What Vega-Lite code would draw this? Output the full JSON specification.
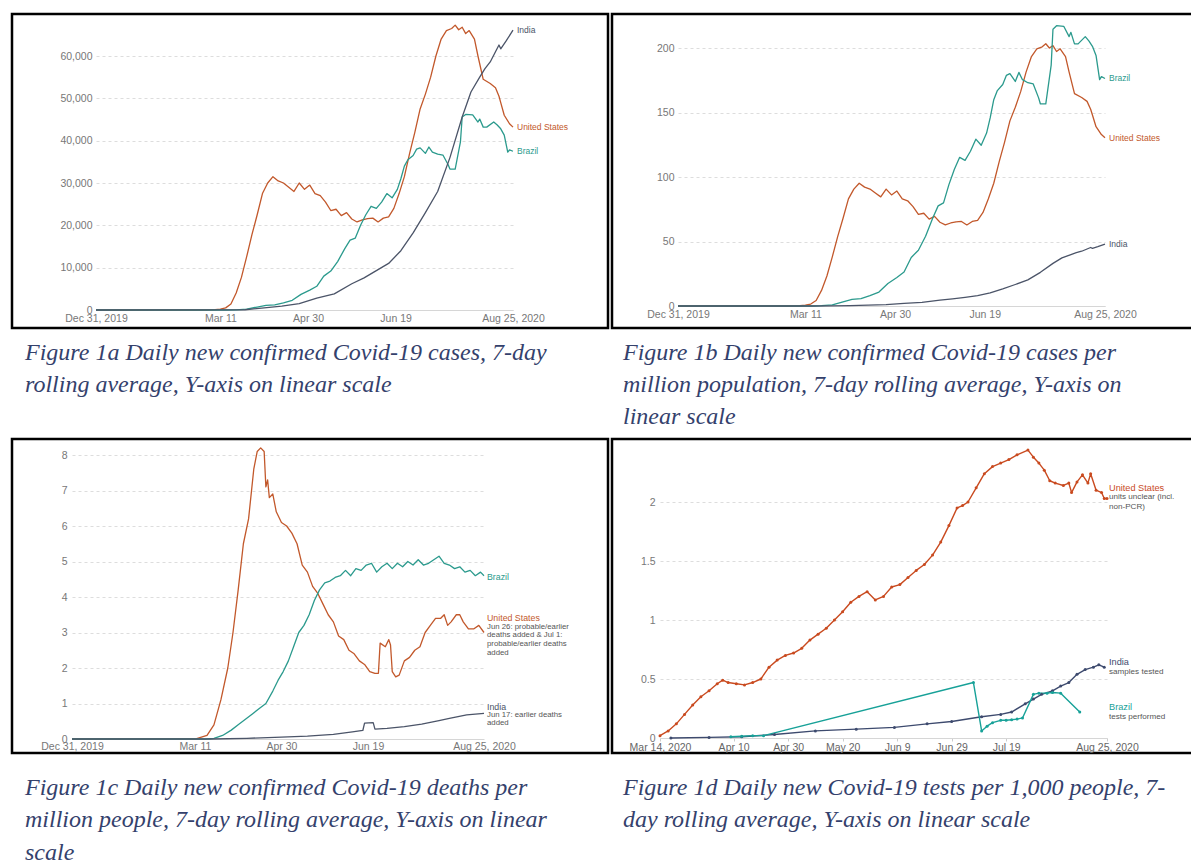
{
  "$schema": "https://vega.github.io/schema/vega-lite/v6.json",
  "background": "white",
  "padding": {"left": 10, "top": 12, "right": 0, "bottom": 0},
  "columns": 2,
  "bounds": "flush",
  "spacing": {"row": 3, "column": 4},
  "resolve": {"scale": {"color": "independent"}},
  "config": {
    "view": {"stroke": "black", "strokeWidth": 2.5},
    "axis": {"labelFont": "Liberation Sans", "labelFontSize": 10.5, "labelColor": "#777777", "ticks": false, "domain": false, "gridColor": "#dddddd", "gridDash": [3, 3], "labelOverlap": false, "labelFlush": false, "tickCount": 30},
    "text": {"font": "Liberation Sans"}
  },
  "concat": [
    {
      "width": 596, "height": 314,
      "layer": [
        {
          "data": {"values": [
            {"country": "United States", "date": "2019-12-31", "value": 0},
            {"country": "United States", "date": "2020-03-01", "value": 3},
            {"country": "United States", "date": "2020-03-05", "value": 30},
            {"country": "United States", "date": "2020-03-08", "value": 70},
            {"country": "United States", "date": "2020-03-11", "value": 200},
            {"country": "United States", "date": "2020-03-14", "value": 500},
            {"country": "United States", "date": "2020-03-17", "value": 1400},
            {"country": "United States", "date": "2020-03-20", "value": 4000},
            {"country": "United States", "date": "2020-03-23", "value": 7700},
            {"country": "United States", "date": "2020-03-26", "value": 12600},
            {"country": "United States", "date": "2020-03-29", "value": 17800},
            {"country": "United States", "date": "2020-04-01", "value": 22500},
            {"country": "United States", "date": "2020-04-04", "value": 27500},
            {"country": "United States", "date": "2020-04-07", "value": 30000},
            {"country": "United States", "date": "2020-04-10", "value": 31500},
            {"country": "United States", "date": "2020-04-13", "value": 30500},
            {"country": "United States", "date": "2020-04-16", "value": 30000},
            {"country": "United States", "date": "2020-04-19", "value": 29000},
            {"country": "United States", "date": "2020-04-22", "value": 28000},
            {"country": "United States", "date": "2020-04-25", "value": 30000},
            {"country": "United States", "date": "2020-04-28", "value": 28500},
            {"country": "United States", "date": "2020-05-01", "value": 29500},
            {"country": "United States", "date": "2020-05-04", "value": 27500},
            {"country": "United States", "date": "2020-05-07", "value": 27000},
            {"country": "United States", "date": "2020-05-10", "value": 25500},
            {"country": "United States", "date": "2020-05-13", "value": 23500},
            {"country": "United States", "date": "2020-05-16", "value": 23800},
            {"country": "United States", "date": "2020-05-19", "value": 22300},
            {"country": "United States", "date": "2020-05-22", "value": 23000},
            {"country": "United States", "date": "2020-05-25", "value": 21500},
            {"country": "United States", "date": "2020-05-28", "value": 20800},
            {"country": "United States", "date": "2020-05-31", "value": 21300},
            {"country": "United States", "date": "2020-06-03", "value": 21600},
            {"country": "United States", "date": "2020-06-06", "value": 21700},
            {"country": "United States", "date": "2020-06-09", "value": 20800},
            {"country": "United States", "date": "2020-06-12", "value": 21700},
            {"country": "United States", "date": "2020-06-15", "value": 22000},
            {"country": "United States", "date": "2020-06-18", "value": 24000},
            {"country": "United States", "date": "2020-06-21", "value": 27500},
            {"country": "United States", "date": "2020-06-24", "value": 31500},
            {"country": "United States", "date": "2020-06-27", "value": 37000},
            {"country": "United States", "date": "2020-06-30", "value": 42000},
            {"country": "United States", "date": "2020-07-03", "value": 47500},
            {"country": "United States", "date": "2020-07-06", "value": 51000},
            {"country": "United States", "date": "2020-07-09", "value": 55000},
            {"country": "United States", "date": "2020-07-12", "value": 60000},
            {"country": "United States", "date": "2020-07-15", "value": 64000},
            {"country": "United States", "date": "2020-07-18", "value": 66000},
            {"country": "United States", "date": "2020-07-21", "value": 66500},
            {"country": "United States", "date": "2020-07-23", "value": 67300},
            {"country": "United States", "date": "2020-07-25", "value": 66200},
            {"country": "United States", "date": "2020-07-27", "value": 66800},
            {"country": "United States", "date": "2020-07-29", "value": 65300},
            {"country": "United States", "date": "2020-07-31", "value": 66000},
            {"country": "United States", "date": "2020-08-03", "value": 64000},
            {"country": "United States", "date": "2020-08-05", "value": 60000},
            {"country": "United States", "date": "2020-08-08", "value": 54500},
            {"country": "United States", "date": "2020-08-12", "value": 53500},
            {"country": "United States", "date": "2020-08-15", "value": 52500},
            {"country": "United States", "date": "2020-08-17", "value": 50500},
            {"country": "United States", "date": "2020-08-18", "value": 49000},
            {"country": "United States", "date": "2020-08-20", "value": 46000},
            {"country": "United States", "date": "2020-08-23", "value": 44000},
            {"country": "United States", "date": "2020-08-25", "value": 43200},
            {"country": "Brazil", "date": "2019-12-31", "value": 0},
            {"country": "Brazil", "date": "2020-03-15", "value": 0},
            {"country": "Brazil", "date": "2020-03-20", "value": 50},
            {"country": "Brazil", "date": "2020-03-26", "value": 200},
            {"country": "Brazil", "date": "2020-04-01", "value": 700},
            {"country": "Brazil", "date": "2020-04-06", "value": 1100},
            {"country": "Brazil", "date": "2020-04-11", "value": 1200},
            {"country": "Brazil", "date": "2020-04-16", "value": 1700},
            {"country": "Brazil", "date": "2020-04-21", "value": 2300},
            {"country": "Brazil", "date": "2020-04-26", "value": 3700},
            {"country": "Brazil", "date": "2020-05-01", "value": 4700},
            {"country": "Brazil", "date": "2020-05-05", "value": 5600},
            {"country": "Brazil", "date": "2020-05-09", "value": 8000},
            {"country": "Brazil", "date": "2020-05-13", "value": 9200},
            {"country": "Brazil", "date": "2020-05-17", "value": 11500},
            {"country": "Brazil", "date": "2020-05-21", "value": 14500},
            {"country": "Brazil", "date": "2020-05-24", "value": 16500},
            {"country": "Brazil", "date": "2020-05-27", "value": 17000},
            {"country": "Brazil", "date": "2020-05-30", "value": 20000},
            {"country": "Brazil", "date": "2020-06-02", "value": 22500},
            {"country": "Brazil", "date": "2020-06-05", "value": 24500},
            {"country": "Brazil", "date": "2020-06-08", "value": 24000},
            {"country": "Brazil", "date": "2020-06-11", "value": 25500},
            {"country": "Brazil", "date": "2020-06-14", "value": 27500},
            {"country": "Brazil", "date": "2020-06-17", "value": 26500},
            {"country": "Brazil", "date": "2020-06-20", "value": 28500},
            {"country": "Brazil", "date": "2020-06-22", "value": 31000},
            {"country": "Brazil", "date": "2020-06-24", "value": 34000},
            {"country": "Brazil", "date": "2020-06-26", "value": 35500},
            {"country": "Brazil", "date": "2020-06-29", "value": 36500},
            {"country": "Brazil", "date": "2020-07-01", "value": 38000},
            {"country": "Brazil", "date": "2020-07-03", "value": 38300},
            {"country": "Brazil", "date": "2020-07-06", "value": 37000},
            {"country": "Brazil", "date": "2020-07-08", "value": 38500},
            {"country": "Brazil", "date": "2020-07-10", "value": 37300},
            {"country": "Brazil", "date": "2020-07-13", "value": 36800},
            {"country": "Brazil", "date": "2020-07-16", "value": 36600},
            {"country": "Brazil", "date": "2020-07-19", "value": 34300},
            {"country": "Brazil", "date": "2020-07-20", "value": 33300},
            {"country": "Brazil", "date": "2020-07-23", "value": 33300},
            {"country": "Brazil", "date": "2020-07-26", "value": 39700},
            {"country": "Brazil", "date": "2020-07-27", "value": 45600},
            {"country": "Brazil", "date": "2020-07-29", "value": 46200},
            {"country": "Brazil", "date": "2020-08-02", "value": 46100},
            {"country": "Brazil", "date": "2020-08-05", "value": 44400},
            {"country": "Brazil", "date": "2020-08-06", "value": 45100},
            {"country": "Brazil", "date": "2020-08-08", "value": 43200},
            {"country": "Brazil", "date": "2020-08-10", "value": 43200},
            {"country": "Brazil", "date": "2020-08-14", "value": 44400},
            {"country": "Brazil", "date": "2020-08-16", "value": 43700},
            {"country": "Brazil", "date": "2020-08-18", "value": 42800},
            {"country": "Brazil", "date": "2020-08-20", "value": 41300},
            {"country": "Brazil", "date": "2020-08-22", "value": 37300},
            {"country": "Brazil", "date": "2020-08-23", "value": 37800},
            {"country": "Brazil", "date": "2020-08-25", "value": 37500},
            {"country": "India", "date": "2019-12-31", "value": 0},
            {"country": "India", "date": "2020-03-15", "value": 10},
            {"country": "India", "date": "2020-03-25", "value": 60},
            {"country": "India", "date": "2020-04-05", "value": 500},
            {"country": "India", "date": "2020-04-15", "value": 900},
            {"country": "India", "date": "2020-04-25", "value": 1500},
            {"country": "India", "date": "2020-05-05", "value": 2800},
            {"country": "India", "date": "2020-05-15", "value": 3800},
            {"country": "India", "date": "2020-05-25", "value": 6200},
            {"country": "India", "date": "2020-06-01", "value": 7600},
            {"country": "India", "date": "2020-06-08", "value": 9300},
            {"country": "India", "date": "2020-06-15", "value": 11000},
            {"country": "India", "date": "2020-06-22", "value": 14000},
            {"country": "India", "date": "2020-06-29", "value": 18200},
            {"country": "India", "date": "2020-07-06", "value": 23000},
            {"country": "India", "date": "2020-07-13", "value": 28000},
            {"country": "India", "date": "2020-07-20", "value": 36000},
            {"country": "India", "date": "2020-07-27", "value": 45600},
            {"country": "India", "date": "2020-08-01", "value": 51500},
            {"country": "India", "date": "2020-08-06", "value": 55000},
            {"country": "India", "date": "2020-08-09", "value": 57000},
            {"country": "India", "date": "2020-08-12", "value": 58600},
            {"country": "India", "date": "2020-08-15", "value": 61000},
            {"country": "India", "date": "2020-08-17", "value": 62600},
            {"country": "India", "date": "2020-08-18", "value": 61700},
            {"country": "India", "date": "2020-08-21", "value": 63500},
            {"country": "India", "date": "2020-08-25", "value": 66100}
          ]},
          "mark": {"type": "line", "strokeWidth": 1.3, "strokeJoin": "round"},
          "encoding": {
            "x": {"field": "date", "type": "temporal",
              "scale": {"type": "utc", "domain": [{"year": 2019, "month": 12, "date": 31, "utc": true}, {"year": 2020, "month": 8, "date": 25, "utc": true}], "range": [84, 501]},
              "axis": {"title": null, "orient": "bottom", "offset": -18, "grid": false, "domain": true, "domainColor": "#d6d6d6", "labelPadding": 3,
                "values": [{"year": 2019, "month": 12, "date": 31, "utc": true}, {"year": 2020, "month": 3, "date": 11, "utc": true}, {"year": 2020, "month": 4, "date": 30, "utc": true}, {"year": 2020, "month": 6, "date": 19, "utc": true}, {"year": 2020, "month": 8, "date": 25, "utc": true}],
                "labelExpr": "utcFormat(datum.value, (utcyear(datum.value) == 2019 || (utcmonth(datum.value) == 7 && utcdate(datum.value) == 25)) ? '%b %-d, %Y' : '%b %-d')"}},
            "y": {"field": "value", "type": "quantitative",
              "scale": {"domain": [0, 60000], "range": [296, 42], "nice": false, "zero": false},
              "axis": {"title": null, "orient": "left", "offset": -84, "grid": true, "labelPadding": 4, "format": ",d", "values": [0, 10000, 20000, 30000, 40000, 50000, 60000]}},
            "color": {"field": "country", "type": "nominal", "scale": {"domain": ["United States", "Brazil", "India"], "range": ["#c2582b", "#2b9a8d", "#4b5468"]}, "legend": null}
          }
        },
        {
          "data": {"values": [
            {"country": "India", "date": "2020-08-25", "value": 66100},
            {"country": "United States", "date": "2020-08-25", "value": 43200},
            {"country": "Brazil", "date": "2020-08-25", "value": 37500}
          ]},
          "mark": {"type": "text", "align": "left", "baseline": "middle", "dx": 4, "fontSize": 8.5},
          "encoding": {
            "x": {"field": "date", "type": "temporal"},
            "y": {"field": "value", "type": "quantitative"},
            "text": {"field": "country"},
            "color": {"field": "country", "type": "nominal", "legend": null}
          }
        }
      ]
    },
    {
      "width": 584, "height": 314,
      "layer": [
        {
          "data": {"values": [
            {"country": "United States", "date": "2019-12-31", "value": 0},
            {"country": "United States", "date": "2020-03-01", "value": 0.01},
            {"country": "United States", "date": "2020-03-05", "value": 0.09},
            {"country": "United States", "date": "2020-03-08", "value": 0.21},
            {"country": "United States", "date": "2020-03-11", "value": 0.6},
            {"country": "United States", "date": "2020-03-14", "value": 1.51},
            {"country": "United States", "date": "2020-03-17", "value": 4.23},
            {"country": "United States", "date": "2020-03-20", "value": 12.08},
            {"country": "United States", "date": "2020-03-23", "value": 23.26},
            {"country": "United States", "date": "2020-03-26", "value": 38.07},
            {"country": "United States", "date": "2020-03-29", "value": 53.78},
            {"country": "United States", "date": "2020-04-01", "value": 67.98},
            {"country": "United States", "date": "2020-04-04", "value": 83.08},
            {"country": "United States", "date": "2020-04-07", "value": 90.63},
            {"country": "United States", "date": "2020-04-10", "value": 95.17},
            {"country": "United States", "date": "2020-04-13", "value": 92.14},
            {"country": "United States", "date": "2020-04-16", "value": 90.63},
            {"country": "United States", "date": "2020-04-19", "value": 87.61},
            {"country": "United States", "date": "2020-04-22", "value": 84.59},
            {"country": "United States", "date": "2020-04-25", "value": 90.63},
            {"country": "United States", "date": "2020-04-28", "value": 86.1},
            {"country": "United States", "date": "2020-05-01", "value": 89.12},
            {"country": "United States", "date": "2020-05-04", "value": 83.08},
            {"country": "United States", "date": "2020-05-07", "value": 81.57},
            {"country": "United States", "date": "2020-05-10", "value": 77.04},
            {"country": "United States", "date": "2020-05-13", "value": 71.0},
            {"country": "United States", "date": "2020-05-16", "value": 71.9},
            {"country": "United States", "date": "2020-05-19", "value": 67.37},
            {"country": "United States", "date": "2020-05-22", "value": 69.49},
            {"country": "United States", "date": "2020-05-25", "value": 64.95},
            {"country": "United States", "date": "2020-05-28", "value": 62.84},
            {"country": "United States", "date": "2020-05-31", "value": 64.35},
            {"country": "United States", "date": "2020-06-03", "value": 65.26},
            {"country": "United States", "date": "2020-06-06", "value": 65.56},
            {"country": "United States", "date": "2020-06-09", "value": 62.84},
            {"country": "United States", "date": "2020-06-12", "value": 65.56},
            {"country": "United States", "date": "2020-06-15", "value": 66.46},
            {"country": "United States", "date": "2020-06-18", "value": 72.51},
            {"country": "United States", "date": "2020-06-21", "value": 83.08},
            {"country": "United States", "date": "2020-06-24", "value": 95.17},
            {"country": "United States", "date": "2020-06-27", "value": 111.78},
            {"country": "United States", "date": "2020-06-30", "value": 126.89},
            {"country": "United States", "date": "2020-07-03", "value": 143.5},
            {"country": "United States", "date": "2020-07-06", "value": 154.08},
            {"country": "United States", "date": "2020-07-09", "value": 166.16},
            {"country": "United States", "date": "2020-07-12", "value": 181.27},
            {"country": "United States", "date": "2020-07-15", "value": 193.35},
            {"country": "United States", "date": "2020-07-18", "value": 199.39},
            {"country": "United States", "date": "2020-07-21", "value": 200.9},
            {"country": "United States", "date": "2020-07-23", "value": 203.32},
            {"country": "United States", "date": "2020-07-25", "value": 200.0},
            {"country": "United States", "date": "2020-07-27", "value": 201.81},
            {"country": "United States", "date": "2020-07-29", "value": 197.28},
            {"country": "United States", "date": "2020-07-31", "value": 199.39},
            {"country": "United States", "date": "2020-08-03", "value": 193.35},
            {"country": "United States", "date": "2020-08-05", "value": 181.27},
            {"country": "United States", "date": "2020-08-08", "value": 164.65},
            {"country": "United States", "date": "2020-08-12", "value": 161.63},
            {"country": "United States", "date": "2020-08-15", "value": 158.61},
            {"country": "United States", "date": "2020-08-17", "value": 152.57},
            {"country": "United States", "date": "2020-08-18", "value": 148.03},
            {"country": "United States", "date": "2020-08-20", "value": 138.97},
            {"country": "United States", "date": "2020-08-23", "value": 132.93},
            {"country": "United States", "date": "2020-08-25", "value": 130.51},
            {"country": "Brazil", "date": "2019-12-31", "value": 0},
            {"country": "Brazil", "date": "2020-03-15", "value": 0},
            {"country": "Brazil", "date": "2020-03-20", "value": 0.24},
            {"country": "Brazil", "date": "2020-03-26", "value": 0.94},
            {"country": "Brazil", "date": "2020-04-01", "value": 3.29},
            {"country": "Brazil", "date": "2020-04-06", "value": 5.17},
            {"country": "Brazil", "date": "2020-04-11", "value": 5.64},
            {"country": "Brazil", "date": "2020-04-16", "value": 8.0},
            {"country": "Brazil", "date": "2020-04-21", "value": 10.82},
            {"country": "Brazil", "date": "2020-04-26", "value": 17.4},
            {"country": "Brazil", "date": "2020-05-01", "value": 22.11},
            {"country": "Brazil", "date": "2020-05-05", "value": 26.34},
            {"country": "Brazil", "date": "2020-05-09", "value": 37.63},
            {"country": "Brazil", "date": "2020-05-13", "value": 43.27},
            {"country": "Brazil", "date": "2020-05-17", "value": 54.09},
            {"country": "Brazil", "date": "2020-05-21", "value": 68.2},
            {"country": "Brazil", "date": "2020-05-24", "value": 77.61},
            {"country": "Brazil", "date": "2020-05-27", "value": 79.96},
            {"country": "Brazil", "date": "2020-05-30", "value": 94.07},
            {"country": "Brazil", "date": "2020-06-02", "value": 105.83},
            {"country": "Brazil", "date": "2020-06-05", "value": 115.24},
            {"country": "Brazil", "date": "2020-06-08", "value": 112.89},
            {"country": "Brazil", "date": "2020-06-11", "value": 119.94},
            {"country": "Brazil", "date": "2020-06-14", "value": 129.35},
            {"country": "Brazil", "date": "2020-06-17", "value": 124.65},
            {"country": "Brazil", "date": "2020-06-20", "value": 134.05},
            {"country": "Brazil", "date": "2020-06-22", "value": 145.81},
            {"country": "Brazil", "date": "2020-06-24", "value": 159.92},
            {"country": "Brazil", "date": "2020-06-26", "value": 166.98},
            {"country": "Brazil", "date": "2020-06-29", "value": 171.68},
            {"country": "Brazil", "date": "2020-07-01", "value": 178.74},
            {"country": "Brazil", "date": "2020-07-03", "value": 180.15},
            {"country": "Brazil", "date": "2020-07-06", "value": 174.04},
            {"country": "Brazil", "date": "2020-07-08", "value": 181.09},
            {"country": "Brazil", "date": "2020-07-10", "value": 175.45},
            {"country": "Brazil", "date": "2020-07-13", "value": 173.1},
            {"country": "Brazil", "date": "2020-07-16", "value": 172.15},
            {"country": "Brazil", "date": "2020-07-19", "value": 161.34},
            {"country": "Brazil", "date": "2020-07-20", "value": 156.63},
            {"country": "Brazil", "date": "2020-07-23", "value": 156.63},
            {"country": "Brazil", "date": "2020-07-26", "value": 186.74},
            {"country": "Brazil", "date": "2020-07-27", "value": 214.49},
            {"country": "Brazil", "date": "2020-07-29", "value": 217.31},
            {"country": "Brazil", "date": "2020-08-02", "value": 216.84},
            {"country": "Brazil", "date": "2020-08-05", "value": 208.84},
            {"country": "Brazil", "date": "2020-08-06", "value": 212.14},
            {"country": "Brazil", "date": "2020-08-08", "value": 203.2},
            {"country": "Brazil", "date": "2020-08-10", "value": 203.2},
            {"country": "Brazil", "date": "2020-08-14", "value": 208.84},
            {"country": "Brazil", "date": "2020-08-16", "value": 205.55},
            {"country": "Brazil", "date": "2020-08-18", "value": 201.32},
            {"country": "Brazil", "date": "2020-08-20", "value": 194.26},
            {"country": "Brazil", "date": "2020-08-22", "value": 175.45},
            {"country": "Brazil", "date": "2020-08-23", "value": 177.8},
            {"country": "Brazil", "date": "2020-08-25", "value": 176.39},
            {"country": "India", "date": "2019-12-31", "value": 0},
            {"country": "India", "date": "2020-03-15", "value": 0.01},
            {"country": "India", "date": "2020-03-25", "value": 0.04},
            {"country": "India", "date": "2020-04-05", "value": 0.36},
            {"country": "India", "date": "2020-04-15", "value": 0.65},
            {"country": "India", "date": "2020-04-25", "value": 1.09},
            {"country": "India", "date": "2020-05-05", "value": 2.03},
            {"country": "India", "date": "2020-05-15", "value": 2.75},
            {"country": "India", "date": "2020-05-25", "value": 4.49},
            {"country": "India", "date": "2020-06-01", "value": 5.51},
            {"country": "India", "date": "2020-06-08", "value": 6.74},
            {"country": "India", "date": "2020-06-15", "value": 7.97},
            {"country": "India", "date": "2020-06-22", "value": 10.14},
            {"country": "India", "date": "2020-06-29", "value": 13.19},
            {"country": "India", "date": "2020-07-06", "value": 16.67},
            {"country": "India", "date": "2020-07-13", "value": 20.29},
            {"country": "India", "date": "2020-07-20", "value": 26.09},
            {"country": "India", "date": "2020-07-27", "value": 33.04},
            {"country": "India", "date": "2020-08-01", "value": 37.32},
            {"country": "India", "date": "2020-08-06", "value": 39.86},
            {"country": "India", "date": "2020-08-09", "value": 41.3},
            {"country": "India", "date": "2020-08-12", "value": 42.46},
            {"country": "India", "date": "2020-08-15", "value": 44.2},
            {"country": "India", "date": "2020-08-17", "value": 45.36},
            {"country": "India", "date": "2020-08-18", "value": 44.71},
            {"country": "India", "date": "2020-08-21", "value": 46.01},
            {"country": "India", "date": "2020-08-25", "value": 47.9}
          ]},
          "mark": {"type": "line", "strokeWidth": 1.3, "strokeJoin": "round"},
          "encoding": {
            "x": {"field": "date", "type": "temporal",
              "scale": {"type": "utc", "domain": [{"year": 2019, "month": 12, "date": 31, "utc": true}, {"year": 2020, "month": 8, "date": 25, "utc": true}], "range": [66, 493]},
              "axis": {"title": null, "orient": "bottom", "offset": -22, "grid": false, "domain": true, "domainColor": "#d6d6d6", "labelPadding": 3,
                "values": [{"year": 2019, "month": 12, "date": 31, "utc": true}, {"year": 2020, "month": 3, "date": 11, "utc": true}, {"year": 2020, "month": 4, "date": 30, "utc": true}, {"year": 2020, "month": 6, "date": 19, "utc": true}, {"year": 2020, "month": 8, "date": 25, "utc": true}],
                "labelExpr": "utcFormat(datum.value, (utcyear(datum.value) == 2019 || (utcmonth(datum.value) == 7 && utcdate(datum.value) == 25)) ? '%b %-d, %Y' : '%b %-d')"}},
            "y": {"field": "value", "type": "quantitative",
              "scale": {"domain": [0, 200], "range": [292, 34], "nice": false, "zero": false},
              "axis": {"title": null, "orient": "left", "offset": -66, "grid": true, "labelPadding": 4, "format": "d", "values": [0, 50, 100, 150, 200]}},
            "color": {"field": "country", "type": "nominal", "scale": {"domain": ["United States", "Brazil", "India"], "range": ["#c2582b", "#2b9a8d", "#4b5468"]}, "legend": null}
          }
        },
        {
          "data": {"values": [
            {"country": "Brazil", "date": "2020-08-25", "value": 176.39},
            {"country": "United States", "date": "2020-08-25", "value": 130.51},
            {"country": "India", "date": "2020-08-25", "value": 47.9}
          ]},
          "mark": {"type": "text", "align": "left", "baseline": "middle", "dx": 4, "fontSize": 8.5},
          "encoding": {
            "x": {"field": "date", "type": "temporal"},
            "y": {"field": "value", "type": "quantitative"},
            "text": {"field": "country"},
            "color": {"field": "country", "type": "nominal", "legend": null}
          }
        }
      ]
    },
    {
      "width": 596, "height": 105,
      "data": {"values": [{}]},
      "mark": {"type": "text", "text": ""},
      "title": {"text": ["Figure 1a Daily new confirmed Covid-19 cases, 7-day", "rolling average, Y-axis on linear scale"], "orient": "bottom", "anchor": "start", "frame": "group", "offset": -95.5, "dx": 13, "baseline": "top", "lineHeight": 32, "font": "Liberation Serif", "fontSize": 24, "fontStyle": "italic", "fontWeight": "normal", "color": "#34416c"}
    },
    {
      "width": 584, "height": 105,
      "data": {"values": [{}]},
      "mark": {"type": "text", "text": ""},
      "title": {"text": ["Figure 1b Daily new confirmed Covid-19 cases per", "million population, 7-day rolling average, Y-axis on", "linear scale"], "orient": "bottom", "anchor": "start", "frame": "group", "offset": -95.5, "dx": 11, "baseline": "top", "lineHeight": 32, "font": "Liberation Serif", "fontSize": 24, "fontStyle": "italic", "fontWeight": "normal", "color": "#34416c"}
    },
    {
      "width": 596, "height": 314,
      "layer": [
        {
          "data": {"values": [
            {"country": "United States", "date": "2019-12-31", "value": 0},
            {"country": "United States", "date": "2020-03-12", "value": 0.01},
            {"country": "United States", "date": "2020-03-18", "value": 0.1},
            {"country": "United States", "date": "2020-03-22", "value": 0.4},
            {"country": "United States", "date": "2020-03-26", "value": 1.1},
            {"country": "United States", "date": "2020-03-30", "value": 2.0},
            {"country": "United States", "date": "2020-04-02", "value": 3.0},
            {"country": "United States", "date": "2020-04-05", "value": 4.2},
            {"country": "United States", "date": "2020-04-08", "value": 5.5},
            {"country": "United States", "date": "2020-04-11", "value": 6.2},
            {"country": "United States", "date": "2020-04-14", "value": 7.6},
            {"country": "United States", "date": "2020-04-16", "value": 8.1},
            {"country": "United States", "date": "2020-04-18", "value": 8.2},
            {"country": "United States", "date": "2020-04-20", "value": 8.1},
            {"country": "United States", "date": "2020-04-21", "value": 7.1},
            {"country": "United States", "date": "2020-04-22", "value": 7.3},
            {"country": "United States", "date": "2020-04-23", "value": 6.8},
            {"country": "United States", "date": "2020-04-25", "value": 6.9},
            {"country": "United States", "date": "2020-04-27", "value": 6.4},
            {"country": "United States", "date": "2020-04-30", "value": 6.1},
            {"country": "United States", "date": "2020-05-03", "value": 6.0},
            {"country": "United States", "date": "2020-05-06", "value": 5.8},
            {"country": "United States", "date": "2020-05-09", "value": 5.5},
            {"country": "United States", "date": "2020-05-12", "value": 4.9},
            {"country": "United States", "date": "2020-05-15", "value": 4.7},
            {"country": "United States", "date": "2020-05-18", "value": 4.3},
            {"country": "United States", "date": "2020-05-21", "value": 4.1},
            {"country": "United States", "date": "2020-05-24", "value": 3.8},
            {"country": "United States", "date": "2020-05-27", "value": 3.5},
            {"country": "United States", "date": "2020-05-30", "value": 3.3},
            {"country": "United States", "date": "2020-06-02", "value": 2.9},
            {"country": "United States", "date": "2020-06-05", "value": 2.8},
            {"country": "United States", "date": "2020-06-08", "value": 2.5},
            {"country": "United States", "date": "2020-06-11", "value": 2.4},
            {"country": "United States", "date": "2020-06-14", "value": 2.2},
            {"country": "United States", "date": "2020-06-17", "value": 2.1},
            {"country": "United States", "date": "2020-06-20", "value": 1.9},
            {"country": "United States", "date": "2020-06-23", "value": 1.85},
            {"country": "United States", "date": "2020-06-25", "value": 1.85},
            {"country": "United States", "date": "2020-06-26", "value": 2.7},
            {"country": "United States", "date": "2020-06-29", "value": 2.6},
            {"country": "United States", "date": "2020-07-01", "value": 2.8},
            {"country": "United States", "date": "2020-07-02", "value": 2.65},
            {"country": "United States", "date": "2020-07-03", "value": 1.9},
            {"country": "United States", "date": "2020-07-05", "value": 1.75},
            {"country": "United States", "date": "2020-07-07", "value": 1.8},
            {"country": "United States", "date": "2020-07-10", "value": 2.2},
            {"country": "United States", "date": "2020-07-13", "value": 2.3},
            {"country": "United States", "date": "2020-07-16", "value": 2.5},
            {"country": "United States", "date": "2020-07-19", "value": 2.6},
            {"country": "United States", "date": "2020-07-22", "value": 3.0},
            {"country": "United States", "date": "2020-07-25", "value": 3.2},
            {"country": "United States", "date": "2020-07-28", "value": 3.4},
            {"country": "United States", "date": "2020-07-31", "value": 3.4},
            {"country": "United States", "date": "2020-08-02", "value": 3.5},
            {"country": "United States", "date": "2020-08-04", "value": 3.2},
            {"country": "United States", "date": "2020-08-06", "value": 3.3},
            {"country": "United States", "date": "2020-08-09", "value": 3.5},
            {"country": "United States", "date": "2020-08-11", "value": 3.5},
            {"country": "United States", "date": "2020-08-13", "value": 3.3},
            {"country": "United States", "date": "2020-08-16", "value": 3.1},
            {"country": "United States", "date": "2020-08-19", "value": 3.1},
            {"country": "United States", "date": "2020-08-22", "value": 3.2},
            {"country": "United States", "date": "2020-08-25", "value": 3.0},
            {"country": "Brazil", "date": "2019-12-31", "value": 0},
            {"country": "Brazil", "date": "2020-03-17", "value": 0},
            {"country": "Brazil", "date": "2020-03-22", "value": 0.02},
            {"country": "Brazil", "date": "2020-03-27", "value": 0.1},
            {"country": "Brazil", "date": "2020-04-01", "value": 0.25},
            {"country": "Brazil", "date": "2020-04-05", "value": 0.4},
            {"country": "Brazil", "date": "2020-04-09", "value": 0.55},
            {"country": "Brazil", "date": "2020-04-13", "value": 0.7},
            {"country": "Brazil", "date": "2020-04-17", "value": 0.85},
            {"country": "Brazil", "date": "2020-04-21", "value": 1.0},
            {"country": "Brazil", "date": "2020-04-25", "value": 1.35},
            {"country": "Brazil", "date": "2020-04-28", "value": 1.65},
            {"country": "Brazil", "date": "2020-05-01", "value": 1.9},
            {"country": "Brazil", "date": "2020-05-04", "value": 2.2},
            {"country": "Brazil", "date": "2020-05-07", "value": 2.6},
            {"country": "Brazil", "date": "2020-05-10", "value": 3.0},
            {"country": "Brazil", "date": "2020-05-13", "value": 3.2},
            {"country": "Brazil", "date": "2020-05-16", "value": 3.5},
            {"country": "Brazil", "date": "2020-05-19", "value": 3.9},
            {"country": "Brazil", "date": "2020-05-22", "value": 4.2},
            {"country": "Brazil", "date": "2020-05-25", "value": 4.4},
            {"country": "Brazil", "date": "2020-05-28", "value": 4.45},
            {"country": "Brazil", "date": "2020-05-31", "value": 4.55},
            {"country": "Brazil", "date": "2020-06-03", "value": 4.6},
            {"country": "Brazil", "date": "2020-06-06", "value": 4.75},
            {"country": "Brazil", "date": "2020-06-09", "value": 4.6},
            {"country": "Brazil", "date": "2020-06-12", "value": 4.8},
            {"country": "Brazil", "date": "2020-06-15", "value": 4.75},
            {"country": "Brazil", "date": "2020-06-18", "value": 4.9},
            {"country": "Brazil", "date": "2020-06-21", "value": 4.95},
            {"country": "Brazil", "date": "2020-06-24", "value": 4.7},
            {"country": "Brazil", "date": "2020-06-27", "value": 4.85},
            {"country": "Brazil", "date": "2020-06-30", "value": 4.95},
            {"country": "Brazil", "date": "2020-07-03", "value": 4.8},
            {"country": "Brazil", "date": "2020-07-06", "value": 4.95},
            {"country": "Brazil", "date": "2020-07-09", "value": 4.85},
            {"country": "Brazil", "date": "2020-07-12", "value": 5.0},
            {"country": "Brazil", "date": "2020-07-15", "value": 4.9},
            {"country": "Brazil", "date": "2020-07-18", "value": 5.05},
            {"country": "Brazil", "date": "2020-07-21", "value": 4.9},
            {"country": "Brazil", "date": "2020-07-24", "value": 4.95},
            {"country": "Brazil", "date": "2020-07-27", "value": 5.05},
            {"country": "Brazil", "date": "2020-07-30", "value": 5.15},
            {"country": "Brazil", "date": "2020-08-02", "value": 4.95},
            {"country": "Brazil", "date": "2020-08-05", "value": 4.9},
            {"country": "Brazil", "date": "2020-08-08", "value": 4.8},
            {"country": "Brazil", "date": "2020-08-11", "value": 4.85},
            {"country": "Brazil", "date": "2020-08-14", "value": 4.7},
            {"country": "Brazil", "date": "2020-08-17", "value": 4.75},
            {"country": "Brazil", "date": "2020-08-20", "value": 4.6},
            {"country": "Brazil", "date": "2020-08-23", "value": 4.7},
            {"country": "Brazil", "date": "2020-08-25", "value": 4.6},
            {"country": "India", "date": "2019-12-31", "value": 0},
            {"country": "India", "date": "2020-03-20", "value": 0},
            {"country": "India", "date": "2020-04-10", "value": 0.02},
            {"country": "India", "date": "2020-04-30", "value": 0.05},
            {"country": "India", "date": "2020-05-15", "value": 0.08},
            {"country": "India", "date": "2020-05-30", "value": 0.13},
            {"country": "India", "date": "2020-06-10", "value": 0.2},
            {"country": "India", "date": "2020-06-16", "value": 0.24},
            {"country": "India", "date": "2020-06-17", "value": 0.45},
            {"country": "India", "date": "2020-06-22", "value": 0.46},
            {"country": "India", "date": "2020-06-23", "value": 0.28},
            {"country": "India", "date": "2020-06-30", "value": 0.3},
            {"country": "India", "date": "2020-07-10", "value": 0.35},
            {"country": "India", "date": "2020-07-20", "value": 0.42},
            {"country": "India", "date": "2020-07-30", "value": 0.52},
            {"country": "India", "date": "2020-08-05", "value": 0.58},
            {"country": "India", "date": "2020-08-10", "value": 0.63},
            {"country": "India", "date": "2020-08-15", "value": 0.68},
            {"country": "India", "date": "2020-08-20", "value": 0.7},
            {"country": "India", "date": "2020-08-25", "value": 0.72}
          ]},
          "mark": {"type": "line", "strokeWidth": 1.3, "strokeJoin": "round"},
          "encoding": {
            "x": {"field": "date", "type": "temporal",
              "scale": {"type": "utc", "domain": [{"year": 2019, "month": 12, "date": 31, "utc": true}, {"year": 2020, "month": 8, "date": 25, "utc": true}], "range": [60, 472]},
              "axis": {"title": null, "orient": "bottom", "offset": -14, "grid": false, "domain": true, "domainColor": "#d6d6d6", "labelPadding": 2,
                "values": [{"year": 2019, "month": 12, "date": 31, "utc": true}, {"year": 2020, "month": 3, "date": 11, "utc": true}, {"year": 2020, "month": 4, "date": 30, "utc": true}, {"year": 2020, "month": 6, "date": 19, "utc": true}, {"year": 2020, "month": 8, "date": 25, "utc": true}],
                "labelExpr": "utcFormat(datum.value, (utcyear(datum.value) == 2019 || (utcmonth(datum.value) == 7 && utcdate(datum.value) == 25)) ? '%b %-d, %Y' : '%b %-d')"}},
            "y": {"field": "value", "type": "quantitative",
              "scale": {"domain": [0, 8], "range": [300, 16], "nice": false, "zero": false},
              "axis": {"title": null, "orient": "left", "offset": -60, "grid": true, "labelPadding": 5, "format": "d", "tickCount": 30, "values": [0, 1, 2, 3, 4, 5, 6, 7, 8]}},
            "color": {"field": "country", "type": "nominal", "scale": {"domain": ["United States", "Brazil", "India"], "range": ["#c2582b", "#2b9a8d", "#4b5468"]}, "legend": null}
          }
        },
        {
          "data": {"values": [{"country": "Brazil", "date": "2020-08-25", "value": 4.6}]},
          "mark": {"type": "text", "align": "left", "baseline": "middle", "dx": 3, "dy": 1, "fontSize": 8.8},
          "encoding": {"x": {"field": "date", "type": "temporal"}, "y": {"field": "value", "type": "quantitative"}, "text": {"field": "country"}, "color": {"field": "country", "type": "nominal", "legend": null}}
        },
        {
          "data": {"values": [{"country": "United States", "date": "2020-08-25", "value": 3.0}]},
          "mark": {"type": "text", "align": "left", "baseline": "middle", "dx": 3, "dy": -14.5, "fontSize": 8.8},
          "encoding": {"x": {"field": "date", "type": "temporal"}, "y": {"field": "value", "type": "quantitative"}, "text": {"field": "country"}, "color": {"field": "country", "type": "nominal", "legend": null}}
        },
        {
          "data": {"values": [{"country": "India", "date": "2020-08-25", "value": 0.72}]},
          "mark": {"type": "text", "align": "left", "baseline": "middle", "dx": 3, "dy": -6.7, "fontSize": 8.8},
          "encoding": {"x": {"field": "date", "type": "temporal"}, "y": {"field": "value", "type": "quantitative"}, "text": {"field": "country"}, "color": {"field": "country", "type": "nominal", "legend": null}}
        },
        {
          "data": {"values": [{"date": "2020-08-25", "value": 3.0, "note": "Jun 26: probable/earlier\ndeaths added & Jul 1:\nprobable/earlier deaths\nadded"}]},
          "mark": {"type": "text", "align": "left", "baseline": "top", "dx": 3, "dy": -9.7, "fontSize": 7.8, "lineHeight": 8.7, "lineBreak": "\n", "color": "#555555"},
          "encoding": {"x": {"field": "date", "type": "temporal"}, "y": {"field": "value", "type": "quantitative"}, "text": {"field": "note"}}
        },
        {
          "data": {"values": [{"date": "2020-08-25", "value": 0.72, "note": "Jun 17: earlier deaths\nadded"}]},
          "mark": {"type": "text", "align": "left", "baseline": "top", "dx": 3, "dy": -2.6, "fontSize": 7.8, "lineHeight": 8.3, "lineBreak": "\n", "color": "#555555"},
          "encoding": {"x": {"field": "date", "type": "temporal"}, "y": {"field": "value", "type": "quantitative"}, "text": {"field": "note"}}
        }
      ]
    },
    {
      "width": 584, "height": 314,
      "layer": [
        {
          "data": {"values": [
            {"country": "United States", "date": "2020-03-14", "value": 0.02},
            {"country": "United States", "date": "2020-03-17", "value": 0.06},
            {"country": "United States", "date": "2020-03-20", "value": 0.12},
            {"country": "United States", "date": "2020-03-23", "value": 0.2},
            {"country": "United States", "date": "2020-03-26", "value": 0.28},
            {"country": "United States", "date": "2020-03-29", "value": 0.35},
            {"country": "United States", "date": "2020-04-01", "value": 0.4},
            {"country": "United States", "date": "2020-04-04", "value": 0.46},
            {"country": "United States", "date": "2020-04-06", "value": 0.49},
            {"country": "United States", "date": "2020-04-08", "value": 0.47},
            {"country": "United States", "date": "2020-04-11", "value": 0.46},
            {"country": "United States", "date": "2020-04-14", "value": 0.45},
            {"country": "United States", "date": "2020-04-17", "value": 0.47},
            {"country": "United States", "date": "2020-04-20", "value": 0.5},
            {"country": "United States", "date": "2020-04-23", "value": 0.6},
            {"country": "United States", "date": "2020-04-26", "value": 0.66},
            {"country": "United States", "date": "2020-04-29", "value": 0.7},
            {"country": "United States", "date": "2020-05-02", "value": 0.72},
            {"country": "United States", "date": "2020-05-05", "value": 0.76},
            {"country": "United States", "date": "2020-05-08", "value": 0.83},
            {"country": "United States", "date": "2020-05-11", "value": 0.88},
            {"country": "United States", "date": "2020-05-14", "value": 0.93},
            {"country": "United States", "date": "2020-05-17", "value": 1.0},
            {"country": "United States", "date": "2020-05-20", "value": 1.07},
            {"country": "United States", "date": "2020-05-23", "value": 1.15},
            {"country": "United States", "date": "2020-05-26", "value": 1.2},
            {"country": "United States", "date": "2020-05-29", "value": 1.24},
            {"country": "United States", "date": "2020-06-01", "value": 1.17},
            {"country": "United States", "date": "2020-06-04", "value": 1.2},
            {"country": "United States", "date": "2020-06-07", "value": 1.28},
            {"country": "United States", "date": "2020-06-10", "value": 1.3},
            {"country": "United States", "date": "2020-06-13", "value": 1.36},
            {"country": "United States", "date": "2020-06-16", "value": 1.42},
            {"country": "United States", "date": "2020-06-19", "value": 1.47},
            {"country": "United States", "date": "2020-06-22", "value": 1.55},
            {"country": "United States", "date": "2020-06-25", "value": 1.66},
            {"country": "United States", "date": "2020-06-28", "value": 1.8},
            {"country": "United States", "date": "2020-07-01", "value": 1.95},
            {"country": "United States", "date": "2020-07-03", "value": 1.97},
            {"country": "United States", "date": "2020-07-05", "value": 2.0},
            {"country": "United States", "date": "2020-07-08", "value": 2.12},
            {"country": "United States", "date": "2020-07-11", "value": 2.24},
            {"country": "United States", "date": "2020-07-14", "value": 2.3},
            {"country": "United States", "date": "2020-07-17", "value": 2.33},
            {"country": "United States", "date": "2020-07-20", "value": 2.36},
            {"country": "United States", "date": "2020-07-23", "value": 2.4},
            {"country": "United States", "date": "2020-07-27", "value": 2.44},
            {"country": "United States", "date": "2020-07-29", "value": 2.38},
            {"country": "United States", "date": "2020-07-31", "value": 2.33},
            {"country": "United States", "date": "2020-08-02", "value": 2.27},
            {"country": "United States", "date": "2020-08-04", "value": 2.18},
            {"country": "United States", "date": "2020-08-06", "value": 2.16},
            {"country": "United States", "date": "2020-08-09", "value": 2.14},
            {"country": "United States", "date": "2020-08-11", "value": 2.16},
            {"country": "United States", "date": "2020-08-12", "value": 2.08},
            {"country": "United States", "date": "2020-08-14", "value": 2.17},
            {"country": "United States", "date": "2020-08-16", "value": 2.23},
            {"country": "United States", "date": "2020-08-18", "value": 2.16},
            {"country": "United States", "date": "2020-08-19", "value": 2.24},
            {"country": "United States", "date": "2020-08-21", "value": 2.1},
            {"country": "United States", "date": "2020-08-23", "value": 2.08},
            {"country": "United States", "date": "2020-08-24", "value": 2.03},
            {"country": "United States", "date": "2020-08-25", "value": 2.03},
            {"country": "India", "date": "2020-03-18", "value": 0.0},
            {"country": "India", "date": "2020-04-01", "value": 0.005},
            {"country": "India", "date": "2020-04-13", "value": 0.01},
            {"country": "India", "date": "2020-04-25", "value": 0.03},
            {"country": "India", "date": "2020-05-10", "value": 0.06},
            {"country": "India", "date": "2020-05-25", "value": 0.075},
            {"country": "India", "date": "2020-06-08", "value": 0.09},
            {"country": "India", "date": "2020-06-20", "value": 0.12},
            {"country": "India", "date": "2020-06-29", "value": 0.14},
            {"country": "India", "date": "2020-07-10", "value": 0.18},
            {"country": "India", "date": "2020-07-17", "value": 0.2},
            {"country": "India", "date": "2020-07-21", "value": 0.22},
            {"country": "India", "date": "2020-07-26", "value": 0.29},
            {"country": "India", "date": "2020-07-29", "value": 0.33},
            {"country": "India", "date": "2020-08-01", "value": 0.37},
            {"country": "India", "date": "2020-08-05", "value": 0.4},
            {"country": "India", "date": "2020-08-08", "value": 0.44},
            {"country": "India", "date": "2020-08-11", "value": 0.47},
            {"country": "India", "date": "2020-08-14", "value": 0.54},
            {"country": "India", "date": "2020-08-17", "value": 0.58},
            {"country": "India", "date": "2020-08-20", "value": 0.6},
            {"country": "India", "date": "2020-08-22", "value": 0.62},
            {"country": "India", "date": "2020-08-24", "value": 0.6},
            {"country": "Brazil", "date": "2020-04-09", "value": 0.01},
            {"country": "Brazil", "date": "2020-04-13", "value": 0.015},
            {"country": "Brazil", "date": "2020-04-17", "value": 0.02},
            {"country": "Brazil", "date": "2020-04-21", "value": 0.02},
            {"country": "Brazil", "date": "2020-07-07", "value": 0.47},
            {"country": "Brazil", "date": "2020-07-10", "value": 0.06},
            {"country": "Brazil", "date": "2020-07-12", "value": 0.1},
            {"country": "Brazil", "date": "2020-07-14", "value": 0.13},
            {"country": "Brazil", "date": "2020-07-17", "value": 0.15},
            {"country": "Brazil", "date": "2020-07-19", "value": 0.15},
            {"country": "Brazil", "date": "2020-07-21", "value": 0.155},
            {"country": "Brazil", "date": "2020-07-23", "value": 0.16},
            {"country": "Brazil", "date": "2020-07-25", "value": 0.17},
            {"country": "Brazil", "date": "2020-07-29", "value": 0.37},
            {"country": "Brazil", "date": "2020-07-31", "value": 0.38},
            {"country": "Brazil", "date": "2020-08-03", "value": 0.38},
            {"country": "Brazil", "date": "2020-08-05", "value": 0.385},
            {"country": "Brazil", "date": "2020-08-08", "value": 0.38},
            {"country": "Brazil", "date": "2020-08-15", "value": 0.22}
          ]},
          "mark": {"type": "line", "strokeWidth": 1.4, "strokeJoin": "round", "point": {"filled": true, "size": 9}},
          "encoding": {
            "x": {"field": "date", "type": "temporal",
              "scale": {"type": "utc", "domain": [{"year": 2020, "month": 3, "date": 14, "utc": true}, {"year": 2020, "month": 8, "date": 25, "utc": true}], "range": [48, 495]},
              "axis": {"title": null, "orient": "bottom", "offset": -15, "grid": false, "domain": true, "domainColor": "#d6d6d6", "ticks": true, "tickColor": "#cccccc", "tickSize": 3, "labelPadding": 1, "labelColor": "#666666",
                "values": [{"year": 2020, "month": 3, "date": 14, "utc": true}, {"year": 2020, "month": 4, "date": 10, "utc": true}, {"year": 2020, "month": 4, "date": 30, "utc": true}, {"year": 2020, "month": 5, "date": 20, "utc": true}, {"year": 2020, "month": 6, "date": 9, "utc": true}, {"year": 2020, "month": 6, "date": 29, "utc": true}, {"year": 2020, "month": 7, "date": 19, "utc": true}, {"year": 2020, "month": 8, "date": 25, "utc": true}],
                "labelExpr": "utcFormat(datum.value, ((utcmonth(datum.value) == 2 && utcdate(datum.value) == 14) || (utcmonth(datum.value) == 7 && utcdate(datum.value) == 25)) ? '%b %-d, %Y' : '%b %-d')"}},
            "y": {"field": "value", "type": "quantitative",
              "scale": {"domain": [0, 2], "range": [299, 63], "nice": false, "zero": false},
              "axis": {"title": null, "orient": "left", "offset": -48, "grid": true, "labelPadding": 5, "format": "~g", "values": [0, 0.5, 1, 1.5, 2]}},
            "color": {"field": "country", "type": "nominal", "scale": {"domain": ["United States", "Brazil", "India"], "range": ["#c94a1f", "#17a198", "#3d4a6e"]}, "legend": null}
          }
        },
        {
          "data": {"values": [{"country": "United States", "date": "2020-08-25", "value": 2.03}]},
          "mark": {"type": "text", "align": "left", "baseline": "middle", "dx": 2, "dy": -10.5, "fontSize": 9.2},
          "encoding": {"x": {"field": "date", "type": "temporal"}, "y": {"field": "value", "type": "quantitative"}, "text": {"field": "country"}, "color": {"field": "country", "type": "nominal", "legend": null}}
        },
        {
          "data": {"values": [{"country": "India", "date": "2020-08-25", "value": 0.6}]},
          "mark": {"type": "text", "align": "left", "baseline": "middle", "dx": 2, "dy": -5.2, "fontSize": 9.2},
          "encoding": {"x": {"field": "date", "type": "temporal"}, "y": {"field": "value", "type": "quantitative"}, "text": {"field": "country"}, "color": {"field": "country", "type": "nominal", "legend": null}}
        },
        {
          "data": {"values": [{"country": "Brazil", "date": "2020-08-25", "value": 0.22}]},
          "mark": {"type": "text", "align": "left", "baseline": "middle", "dx": 2, "dy": -5, "fontSize": 9.2},
          "encoding": {"x": {"field": "date", "type": "temporal"}, "y": {"field": "value", "type": "quantitative"}, "text": {"field": "country"}, "color": {"field": "country", "type": "nominal", "legend": null}}
        },
        {
          "data": {"values": [{"date": "2020-08-25", "value": 2.03, "note": "units unclear (incl.\nnon-PCR)"}]},
          "mark": {"type": "text", "align": "left", "baseline": "top", "dx": 2, "dy": -5.4, "fontSize": 8.1, "lineHeight": 9.5, "lineBreak": "\n", "color": "#555555"},
          "encoding": {"x": {"field": "date", "type": "temporal"}, "y": {"field": "value", "type": "quantitative"}, "text": {"field": "note"}}
        },
        {
          "data": {"values": [
            {"date": "2020-08-25", "value": 0.6, "note": "samples tested"},
            {"date": "2020-08-25", "value": 0.22, "note": "tests performed"}
          ]},
          "mark": {"type": "text", "align": "left", "baseline": "middle", "dx": 2, "dy": 4.5, "fontSize": 8.1, "color": "#555555"},
          "encoding": {"x": {"field": "date", "type": "temporal"}, "y": {"field": "value", "type": "quantitative"}, "text": {"field": "note"}}
        }
      ]
    },
    {
      "width": 596, "height": 116,
      "data": {"values": [{}]},
      "mark": {"type": "text", "text": ""},
      "title": {"text": ["Figure 1c Daily new confirmed Covid-19 deaths per", "million people, 7-day rolling average, Y-axis on linear", "scale"], "orient": "bottom", "anchor": "start", "frame": "group", "offset": -96.5, "dx": 13, "baseline": "top", "lineHeight": 32.5, "font": "Liberation Serif", "fontSize": 24, "fontStyle": "italic", "fontWeight": "normal", "color": "#34416c"}
    },
    {
      "width": 584, "height": 116,
      "data": {"values": [{}]},
      "mark": {"type": "text", "text": ""},
      "title": {"text": ["Figure 1d Daily new Covid-19 tests per 1,000 people, 7-", "day rolling average, Y-axis on linear scale"], "orient": "bottom", "anchor": "start", "frame": "group", "offset": -96.5, "dx": 11, "baseline": "top", "lineHeight": 32.5, "font": "Liberation Serif", "fontSize": 24, "fontStyle": "italic", "fontWeight": "normal", "color": "#34416c"}
    }
  ]
}
